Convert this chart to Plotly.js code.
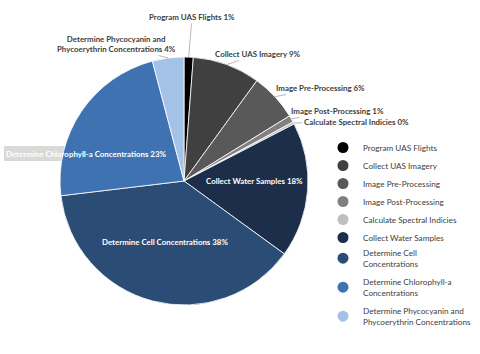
<!DOCTYPE html>
<html><head><meta charset="utf-8">
<script src="https://cdn.plot.ly/plotly-3.0.1.min.js"></script>
<style>html,body{margin:0;padding:0;background:#fff}</style>
</head><body><div id="chart" style="width:480px;height:354px"></div>
<script>
const labels = ["Program UAS Flights","Collect UAS Imagery","Image Pre-Processing","Image Post-Processing","Calculate Spectral Indicies","Collect Water Samples","Determine Cell Concentrations","Determine Chlorophyll-a Concentrations","Determine Phycocyanin and Phycoerythrin Concentrations"];
const legendNames = ["Program UAS Flights","Collect UAS Imagery","Image Pre-Processing","Image Post-Processing","Calculate Spectral Indicies","Collect Water Samples","Determine Cell<br>Concentrations","Determine Chlorophyll-a<br>Concentrations","Determine Phycocyanin and<br>Phycoerythrin Concentrations"];
const sliceLabels = ["Program UAS Flights","Collect UAS Imagery","Image Pre-Processing","Image Post-Processing","Calculate Spectral Indicies","Collect Water Samples","Determine Cell Concentrations","Determine Chlorophyll-a Concentrations","Determine Phycocyanin and<br>Phycoerythrin Concentrations"];
const values = [1.2, 8.8, 6.2, 0.9, 0.3, 17.6, 38.1, 22.8, 4.1];
const colors = ["#000000","#404040","#595959","#808080","#bfbfbf","#1c2e4a","#2b4c74","#3e72b0","#a4c2e8"];

// geometry (px)
const W = 480, H = 354, CX = 184, CY = 181, R = 124;
const total = values.reduce((a,b)=>a+b,0);
const pct = values.map(v => Math.round(v/total*100) + "%");
const cum = []; values.reduce((a,v,i)=>{cum[i]=a+v/2; return a+v;},0);
function edge(i){ const ang = cum[i]/total*2*Math.PI; return [CX + R*Math.sin(ang), CY - R*Math.cos(ang)]; }

// outside labels: slice index, text centre (px)
const outside = [
  {i:0, tx:192, ty:17},
  {i:1, tx:258, ty:54},
  {i:2, tx:320, ty:88},
  {i:3, tx:337, ty:111},
  {i:4, tx:356, ty:122},
  {i:8, tx:116, ty:44}
];
const annFont = {family:"Lato", size:7.9, color:"#404040", weight:"bold"};
const inFont = {family:"Lato", size:7.9, color:"#ffffff", weight:"bold"};
const annotations = outside.map(o => {
  const p = edge(o.i);
  return {xref:"paper", yref:"paper", x:p[0]/W, y:1-p[1]/H,
    text: sliceLabels[o.i] + " " + pct[o.i], showarrow:true, arrowhead:0, arrowwidth:1,
    arrowcolor:"#b8b8b8", ax:o.tx-p[0], ay:o.ty-p[1], standoff:0, font:annFont, align:"center"};
});
// labels placed on the slices
const inside = [{i:5, tx:254, ty:181}, {i:6, tx:165, ty:242}, {i:7, tx:86, ty:153.5}];
inside.forEach(o => annotations.push({xref:"paper", yref:"paper", x:o.tx/W, y:1-o.ty/H,
  xanchor:"center", yanchor:"middle", showarrow:false, text: sliceLabels[o.i] + " " + pct[o.i], font:inFont}));

const pie = {
  type:"pie", values: values, labels: labels,
  marker:{colors: colors, line:{color:"#ffffff", width:0.8}},
  sort:false, direction:"clockwise", rotation:0,
  textinfo:"none",
  domain:{x:[(CX-R)/W,(CX+R)/W], y:[1-(CY+R)/H, 1-(CY-R)/H]},
  showlegend:false, hoverinfo:"none"
};
const traces = [pie];
// legend items: circle centre y (px) for each entry
const legendY = [147, 165, 183, 201, 219, 237, 255, 284, 313];
const layout = {
  width:W, height:H, margin:{l:0,r:0,t:0,b:0},
  paper_bgcolor:"#fff", plot_bgcolor:"rgba(0,0,0,0)",
  xaxis:{visible:false}, yaxis:{visible:false},
  showlegend:true,
  shapes:[{type:"rect", xref:"paper", yref:"paper", layer:"below", x0:4/W, x1:160/W, y0:1-161/H, y1:1-146/H, fillcolor:"#d9d9d9", line:{width:0}}],
  annotations: annotations
};
legendNames.forEach((n,i)=>{
  const key = i===0 ? "legend" : "legend"+(i+1);
  traces.push({type:"scatter", x:[null], y:[null], mode:"markers", name:n, legend:key,
    marker:{color:colors[i], size:11, symbol:"circle"}, showlegend:true, hoverinfo:"none"});
  layout[key] = {x:323/W, y:1-(legendY[i]-14)/H, xanchor:"left", yanchor:"top", bgcolor:"rgba(0,0,0,0)",
    font:{family:"Lato", size:8.2, color:"#404040"}, itemwidth:30};
});
Plotly.newPlot("chart", traces, layout, {displayModeBar:false, staticPlot:true});
</script></body></html>
